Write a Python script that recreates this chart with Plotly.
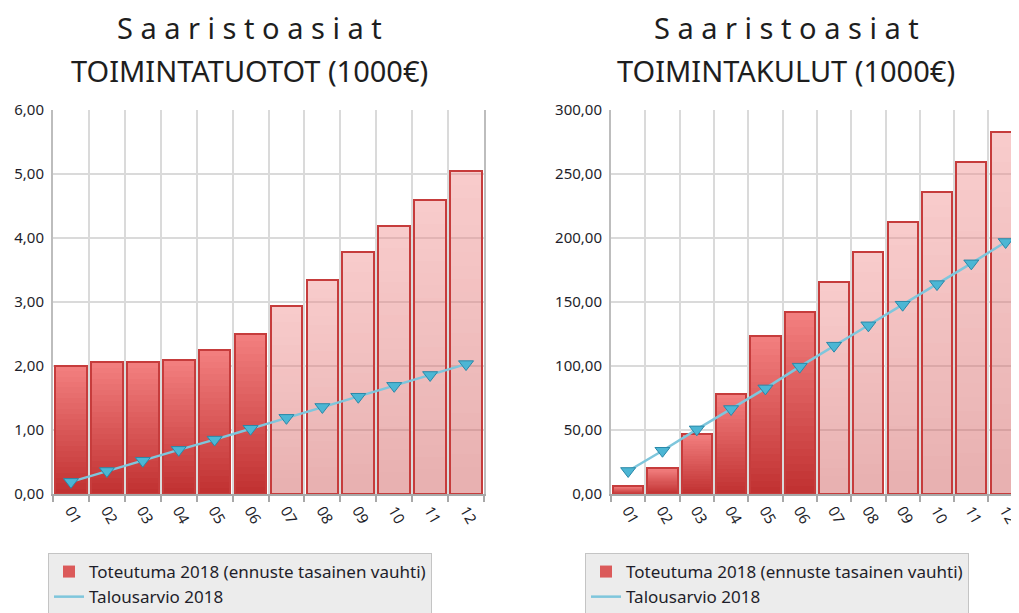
import plotly.graph_objects as go

months = ["01", "02", "03", "04", "05", "06", "07", "08", "09", "10", "11", "12"]
month_pos = [1, 2, 3, 4, 5, 6, 7, 8, 9, 10, 11, 12]
actual_months = 6  # 01-06 realised, 07-12 forecast

tuotot_toteutuma = [2.00, 2.06, 2.06, 2.09, 2.25, 2.50, 2.94, 3.34, 3.78, 4.19, 4.60, 5.04]
tuotot_talousarvio = [0.19, 0.36, 0.52, 0.69, 0.85, 1.02, 1.19, 1.36, 1.52, 1.69, 1.86, 2.03]

kulut_toteutuma = [6.5, 20.5, 46.9, 78.0, 123.7, 142.2, 165.6, 189.0, 212.2, 236.0, 259.4, 282.8]
kulut_talousarvio = [18.0, 33.8, 50.5, 66.4, 82.5, 99.5, 115.9, 131.8, 147.9, 164.0, 180.2, 196.9]

title_top = "S a a r i s t o a s i a t"
title_left = "TOIMINTATUOTOT (1000€)"
title_right = "TOIMINTAKULUT (1000€)"
name_bar = "Toteutuma 2018 (ennuste tasainen vauhti)"
name_line = "Talousarvio 2018"

FONT = "Noto Sans"
N_BANDS = 24

# the page body has an 8px default margin; the figure is laid out in screen pixels minus it
OFF = 8
W, H = 1019 - OFF, 613 - OFF


def px_x(p):
    return (p - OFF) / W


def px_y(p):
    return 1 - (p - OFF) / H


def lerp(c1, c2, t):
    return tuple(c1[i] + (c2[i] - c1[i]) * t for i in range(len(c1)))


dark_bottom, dark_top = (192, 48, 48), (243, 128, 128)
light_bottom, light_top = (205, 90, 90, 0.48), (240, 140, 140, 0.45)

fig = go.Figure()


def add_chart(values, budget, xa, ya, legend):
    for k in range(N_BANDS):
        t = (k + 0.5) / N_BANDS
        d = lerp(dark_bottom, dark_top, t)
        l = lerp(light_bottom, light_top, t)
        dcol = "rgb(%d,%d,%d)" % tuple(round(c) for c in d)
        lcol = "rgba(%d,%d,%d,%.3f)" % (round(l[0]), round(l[1]), round(l[2]), l[3])
        colors = [dcol if i < actual_months else lcol for i in range(len(values))]
        show = k == N_BANDS // 2
        fig.add_trace(go.Bar(
            x=month_pos, y=[v / N_BANDS for v in values],
            base=[v * k / N_BANDS for v in values],
            marker=dict(color=colors, line=dict(width=0)),
            width=0.88, xaxis=xa, yaxis=ya, name=name_bar,
            showlegend=show, legend=legend, hoverinfo="skip",
        ))
    fig.add_trace(go.Bar(
        x=month_pos, y=values, width=0.88,
        marker=dict(color="rgba(0,0,0,0)", line=dict(color="#c63c3c", width=2)),
        xaxis=xa, yaxis=ya, showlegend=False, legend=legend, name=name_bar,
    ))
    fig.add_trace(go.Scatter(
        x=month_pos, y=budget, mode="lines", name=name_line,
        line=dict(color="#7ec6dc", width=2.5),
        xaxis=xa, yaxis=ya, legend=legend,
    ))
    fig.add_trace(go.Scatter(
        x=month_pos, y=budget, mode="markers", name=name_line,
        marker=dict(symbol="triangle-down", size=13, color="#4cb6d4",
                    line=dict(color="#2a88a8", width=1)),
        xaxis=xa, yaxis=ya, legend=legend, showlegend=False,
    ))


add_chart(tuotot_toteutuma, tuotot_talousarvio, "x", "y", "legend")
add_chart(kulut_toteutuma, kulut_talousarvio, "x2", "y2", "legend2")

boundaries = [p - 0.5 for p in month_pos] + [month_pos[-1] + 0.5]

xcommon = dict(
    tickvals=month_pos, ticktext=months, tickangle=60, ticks="",
    showgrid=False, showline=True, linecolor="#a8a8a8", linewidth=2,
    mirror=False, zeroline=False, ticklabeloverflow="allow",
    tickfont=dict(family=FONT, size=15, color="#1e1e2a"),
    minor=dict(tickvals=boundaries, showgrid=True, gridcolor="#dadada",
               gridwidth=1.5, ticks="outside", ticklen=6, tickcolor="#a8a8a8",
               tickwidth=2),
)
ycommon = dict(
    tickformat=".2f", showgrid=True, gridcolor="#dadada", gridwidth=1.5,
    showline=True, linecolor="#bdbdbd", linewidth=2, mirror=True,
    zeroline=False, ticks="", ticklabelstandoff=4,
    tickfont=dict(family=FONT, size=15, color="#1e1e2a"),
)

legend_common = dict(
    bgcolor="#ececec", bordercolor="#c4c4c4", borderwidth=1,
    font=dict(family=FONT, size=17, color="#1e1e2a"),
    xanchor="left", yanchor="top", tracegroupgap=0, itemwidth=30,
)

fig.update_layout(
    width=W, height=H,
    margin=dict(l=0, r=0, t=0, b=0, autoexpand=False),
    paper_bgcolor="white", plot_bgcolor="white",
    barmode="overlay", bargap=0, bargroupgap=0, separators=", ",
    xaxis=dict(domain=[px_x(53), px_x(484)], range=[0.5, 12.5], anchor="y", **xcommon),
    yaxis=dict(domain=[px_y(494), px_y(110)], range=[0, 6], dtick=1, anchor="x", **ycommon),
    xaxis2=dict(domain=[px_x(611), 1.0], range=[0.5, 12.39], anchor="y2", **xcommon),
    yaxis2=dict(domain=[px_y(494), px_y(110)], range=[0, 300], dtick=50, anchor="x2", **ycommon),
    legend=dict(x=px_x(48), y=px_y(553), **legend_common),
    legend2=dict(x=px_x(585), y=px_y(553), **legend_common),
    showlegend=True,
)

for cx, sub in ((249, title_left), (786, title_right)):
    fig.add_annotation(text=title_top, x=px_x(cx), y=px_y(27), xref="paper", yref="paper",
                       showarrow=False, xanchor="center", yanchor="middle",
                       font=dict(family=FONT, size=29, color="#1e1e1e"))
    fig.add_annotation(text=sub, x=px_x(cx), y=px_y(70), xref="paper", yref="paper",
                       showarrow=False, xanchor="center", yanchor="middle",
                       font=dict(family=FONT, size=29, color="#1e1e1e"))

fig.write_html("out.html")
